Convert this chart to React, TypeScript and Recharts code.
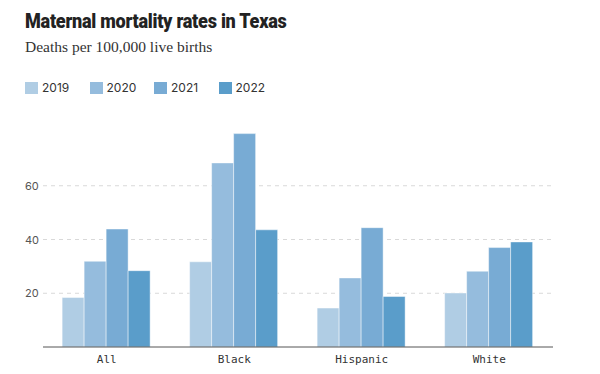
import { BarChart, Bar, XAxis, YAxis, CartesianGrid } from "recharts";

const groups = ["All", "Black", "Hispanic", "White"];
const years = ["2019", "2020", "2021", "2022"];
const rate2019 = [18.4, 31.7, 14.5, 20.1];
const rate2020 = [31.9, 68.5, 25.7, 28.2];
const rate2021 = [43.9, 79.4, 44.4, 37.0];
const rate2022 = [28.4, 43.6, 18.8, 39.1];
const yTicks = [20, 40, 60];

const colors = ["#b0cde4", "#95bcdd", "#78abd4", "#5a9dca"];

const data = groups.map((g, i) => ({
  group: g,
  y2019: rate2019[i],
  y2020: rate2020[i],
  y2021: rate2021[i],
  y2022: rate2022[i],
}));

const YTick = ({ y, payload }: any) => (
  <text
    x={25}
    y={y}
    dy={4}
    textAnchor="start"
    fontSize={11}
    fill="#555"
    fontFamily="Inter, 'Noto Sans', sans-serif"
  >
    {payload.value}
  </text>
);

export default function App() {
  return (
    <div
      style={{
        position: "absolute",
        left: 0,
        top: 0,
        width: 600,
        height: 374,
        background: "#fff",
        overflow: "hidden",
      }}
    >
      <div
        style={{
          position: "absolute",
          left: 25,
          top: 9,
          fontFamily: "Roboto, sans-serif",
          fontWeight: 900,
          fontSize: 21,
          color: "#222",
          letterSpacing: -0.3,
          whiteSpace: "nowrap",
          transform: "scaleX(0.86)",
          transformOrigin: "left top",
        }}
      >
        Maternal mortality rates in Texas
      </div>
      <div
        style={{
          position: "absolute",
          left: 25,
          top: 38,
          fontFamily: "'Liberation Serif', serif",
          fontSize: 15.5,
          color: "#333",
          whiteSpace: "nowrap",
        }}
      >
        Deaths per 100,000 live births
      </div>
      {years.map((yr, i) => (
        <div
          key={yr}
          style={{
            position: "absolute",
            left: 25 + i * 64.5,
            top: 80,
            display: "flex",
            alignItems: "center",
            fontFamily: "Inter, 'Noto Sans', sans-serif",
            fontSize: 12,
            color: "#333",
          }}
        >
          <span
            style={{
              display: "inline-block",
              width: 13,
              height: 12,
              background: colors[i],
              marginRight: 4,
            }}
          />
          {yr}
        </div>
      ))}
      <div style={{ position: "absolute", left: 0, top: 0 }}>
        <BarChart
          width={600}
          height={374}
          data={data}
          margin={{ top: 132, right: 47, bottom: 7, left: 0 }}
          barCategoryGap="15%"
          barGap={0}
        >
          <CartesianGrid
            vertical={false}
            stroke="#d9d9d9"
            strokeDasharray="4 4"
            horizontalValues={yTicks}
          />
          <XAxis
            dataKey="group"
            height={20}
            axisLine={{ stroke: "#555" }}
            tickLine={false}
            tickMargin={2}
            tick={{
              fontSize: 11,
              fill: "#333",
              fontFamily: "'DejaVu Sans Mono', 'Liberation Mono', monospace",
            }}
          />
          <YAxis
            width={43}
            domain={[0, 80]}
            ticks={yTicks}
            axisLine={false}
            tickLine={false}
            tick={<YTick />}
          />
          {years.map((yr, i) => (
            <Bar
              key={yr}
              dataKey={`y${yr}`}
              name={yr}
              fill={colors[i]}
              stroke="rgba(255,255,255,0.45)"
              strokeWidth={1}
              isAnimationActive={false}
            />
          ))}
        </BarChart>
      </div>
    </div>
  );
}
